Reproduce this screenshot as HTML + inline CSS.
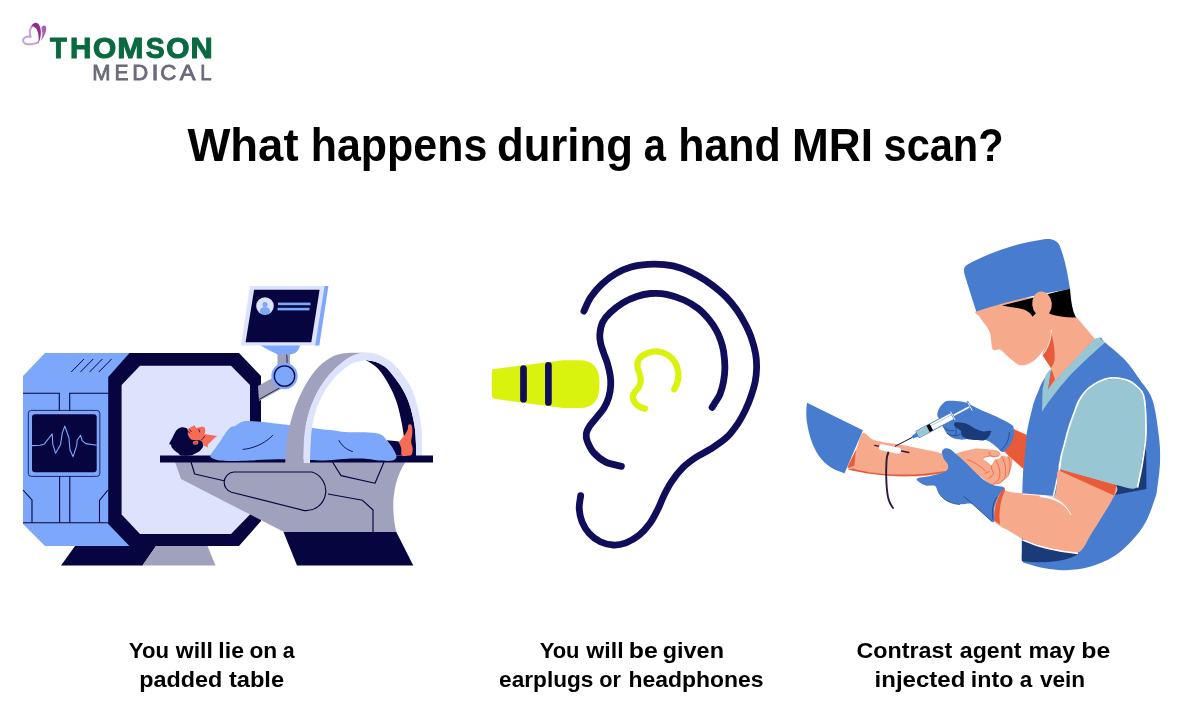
<!DOCTYPE html>
<html lang="en">
<head>
<meta charset="utf-8">
<title>What happens during a hand MRI scan?</title>
<style>
html,body{margin:0;padding:0;background:#fff;}
body{width:1200px;height:720px;overflow:hidden;position:relative;font-family:"Liberation Sans",sans-serif;}
svg{position:absolute;left:0;top:0;display:block;will-change:transform;}
text{font-family:"Liberation Sans",sans-serif;font-weight:700;}
</style>
</head>
<body>
<svg width="1200" height="720" viewBox="0 0 1200 720">
<g id="all">

<!-- LOGO -->
<g id="logo">
<path d="M38.3,42.4 C34,44.6 27.5,45 24.8,43.3 C22.2,41.6 22.6,38.6 25.2,37.3 C27,36.4 29,36.4 30.7,37 C29.4,33.5 29.7,29.8 31.3,27" fill="none" stroke="#c9a0d2" stroke-width="2" stroke-linecap="round" stroke-linejoin="round"/>
<path d="M31,26.6 C32.3,23.6 35,22.2 37.2,23 C39.2,23.8 40.1,26.5 40.7,30 C41.3,34.5 40.4,39.5 38.3,43.2 C39.2,38 38.5,33 36.9,29.8 C35.6,27.2 33.5,25.9 31,26.6 Z" fill="#8f2d91"/>
<path d="M41.4,27.5 C42.5,25.4 44.6,24.8 45.7,26.2 C47,28 46.1,32 44.3,35.5 C43.3,37.5 42,39.6 40.6,41.2 C41.8,38.5 42.4,36 42.3,33.5 C42.2,31 41.6,29 41.4,27.5 Z" fill="#a862b3"/>
<text y="57.8" font-size="28.6" fill="#0a6a3f" stroke="#0a6a3f" stroke-width="1" stroke-linejoin="miter"><tspan x="50.10" textLength="16.79" lengthAdjust="spacingAndGlyphs">T</tspan><tspan x="70.13" textLength="21.35" lengthAdjust="spacingAndGlyphs">H</tspan><tspan x="93.03" textLength="23.22" lengthAdjust="spacingAndGlyphs">O</tspan><tspan x="117.31" textLength="26.18" lengthAdjust="spacingAndGlyphs">M</tspan><tspan x="145.69" textLength="18.91" lengthAdjust="spacingAndGlyphs">S</tspan><tspan x="166.28" textLength="23.22" lengthAdjust="spacingAndGlyphs">O</tspan><tspan x="190.55" textLength="22.27" lengthAdjust="spacingAndGlyphs">N</tspan></text>
<text y="79.6" font-size="21.6" fill="#6a6a7a" style="font-weight:400" stroke="#6a6a7a" stroke-width="0.8"><tspan x="92.20" textLength="18.30" lengthAdjust="spacingAndGlyphs">M</tspan><tspan x="114.58" textLength="14.02" lengthAdjust="spacingAndGlyphs">E</tspan><tspan x="132.19" textLength="15.97" lengthAdjust="spacingAndGlyphs">D</tspan><tspan x="151.45" textLength="7.09" lengthAdjust="spacingAndGlyphs">I</tspan><tspan x="160.27" textLength="16.17" lengthAdjust="spacingAndGlyphs">C</tspan><tspan x="179.76" textLength="15.77" lengthAdjust="spacingAndGlyphs">A</tspan><tspan x="200.24" textLength="11.29" lengthAdjust="spacingAndGlyphs">L</tspan></text>
</g>

<!-- TITLE -->
<text y="161" font-size="45.5" fill="#000"><tspan x="187.48" textLength="111.06" lengthAdjust="spacingAndGlyphs">What</tspan> <tspan x="310.77" textLength="176.49" lengthAdjust="spacingAndGlyphs">happens</tspan> <tspan x="496.96" textLength="135.97" lengthAdjust="spacingAndGlyphs">during</tspan> <tspan x="643.84" textLength="22.15" lengthAdjust="spacingAndGlyphs">a</tspan> <tspan x="678.27" textLength="102.55" lengthAdjust="spacingAndGlyphs">hand</tspan> <tspan x="792.07" textLength="80.89" lengthAdjust="spacingAndGlyphs">MRI</tspan> <tspan x="883.55" textLength="120.08" lengthAdjust="spacingAndGlyphs">scan?</tspan></text>
<!-- CAPTIONS -->
<text y="657.7" font-size="22.6" fill="#000"><tspan x="128.82" textLength="40.14" lengthAdjust="spacingAndGlyphs">You</tspan> <tspan x="175.80" textLength="37.05" lengthAdjust="spacingAndGlyphs">will</tspan> <tspan x="218.39" textLength="25.70" lengthAdjust="spacingAndGlyphs">lie</tspan> <tspan x="249.41" textLength="27.79" lengthAdjust="spacingAndGlyphs">on</tspan> <tspan x="282.68" textLength="11.88" lengthAdjust="spacingAndGlyphs">a</tspan></text>
<text y="687.4" font-size="22.6" fill="#000"><tspan x="139.27" textLength="83.06" lengthAdjust="spacingAndGlyphs">padded</tspan> <tspan x="228.92" textLength="55.19" lengthAdjust="spacingAndGlyphs">table</tspan></text>
<text y="657.7" font-size="22.6" fill="#000"><tspan x="539.63" textLength="39.82" lengthAdjust="spacingAndGlyphs">You</tspan> <tspan x="586.25" textLength="37.31" lengthAdjust="spacingAndGlyphs">will</tspan> <tspan x="628.87" textLength="28.97" lengthAdjust="spacingAndGlyphs">be</tspan> <tspan x="662.79" textLength="61.16" lengthAdjust="spacingAndGlyphs">given</tspan></text>
<text y="687.4" font-size="22.6" fill="#000"><tspan x="499.12" textLength="94.30" lengthAdjust="spacingAndGlyphs">earplugs</tspan> <tspan x="599.16" textLength="21.66" lengthAdjust="spacingAndGlyphs">or</tspan> <tspan x="628.41" textLength="135.03" lengthAdjust="spacingAndGlyphs">headphones</tspan></text>
<text y="657.7" font-size="22.6" fill="#000"><tspan x="856.55" textLength="95.73" lengthAdjust="spacingAndGlyphs">Contrast</tspan> <tspan x="959.83" textLength="61.70" lengthAdjust="spacingAndGlyphs">agent</tspan> <tspan x="1028.47" textLength="46.64" lengthAdjust="spacingAndGlyphs">may</tspan> <tspan x="1081.37" textLength="28.97" lengthAdjust="spacingAndGlyphs">be</tspan></text>
<text y="687.4" font-size="22.6" fill="#000"><tspan x="874.58" textLength="90.75" lengthAdjust="spacingAndGlyphs">injected</tspan> <tspan x="970.89" textLength="42.52" lengthAdjust="spacingAndGlyphs">into</tspan> <tspan x="1019.85" textLength="12.51" lengthAdjust="spacingAndGlyphs">a</tspan> <tspan x="1039.92" textLength="45.23" lengthAdjust="spacingAndGlyphs">vein</tspan></text>

<g id="mri">
<!-- feet of scanner -->
<polygon points="75,546 61,565.5 142.5,565.5 156,546" fill="#07053f"/>
<polygon points="156,546 142.5,565.5 215.5,565.5 207.5,546" fill="#a0a1bc"/>
<!-- blue body -->
<polygon points="45,353 131,353 131,546 45,546 23,524 23,376" fill="#7da7fb"/>
<!-- dark octagon -->
<polygon points="129.5,353 239,353 261,376 261,521 239,546 129.5,546 108.2,524 108.2,377" fill="#07053f"/>
<!-- inner light -->
<polygon points="140,365.8 231,365.8 250,385 250,514.5 231,534 140,534 121.6,514.5 121.6,385" fill="#dde3fd"/>
<!-- panel lines -->
<g fill="none" stroke="#07053f" stroke-width="1.1">
<path d="M23,393.3 H59.3 V411 M108.5,393.3 H69.7 V411"/>
<path d="M59.6,476 V522.6 M69.8,476 V522.6"/>
<path d="M23,522.8 H108.5"/>
<path d="M23,490 L32,500 V522.6 M108,490 L99.5,500.5 V522.6"/>
<path d="M71.2,372 L84,359 M80.4,372 L93.2,359 M89.6,372 L102.4,359 M98.8,372 L111.6,359" stroke-width="1"/>
<rect x="28.3" y="410.4" width="71.5" height="66" rx="3" stroke-width="0.8"/>
</g>
<rect x="32" y="414.2" width="64.7" height="58" rx="3" fill="#07053f"/>
<path d="M32,445.6 L40,445.3 L44.4,443.9 L52.2,433.9 L52.8,444.4 L55.6,453.3 L60.6,444.4 L62.2,433.3 L64.8,426.1 L68.9,437.8 L70,450 L73.1,456.7 L76.7,445.6 L77.2,440 L80.6,435.3 L82.2,440.6 L85.6,443.6 L96.7,445.3" fill="none" stroke="#7da7fb" stroke-width="1.1" stroke-linejoin="round"/>

<!-- monitor arm -->
<polygon points="258,386 276,376 283,388 259,401" fill="#a0a1bc"/>
<path d="M259,399.5 L281,387" stroke="#07053f" stroke-width="0.8" fill="none"/>
<rect x="277.5" y="350" width="12.5" height="22" fill="#a0a1bc"/>
<path d="M285,352 q2,2 2,5 v10" stroke="#07053f" stroke-width="0.8" fill="none"/>
<path d="M260,345 H300 C299,351 295,354.5 289,354.5 H278 C272,352 266,349 260,345 Z" fill="#7da7fb"/>
<circle cx="284.5" cy="376" r="13.2" fill="#7da7fb"/>
<circle cx="284.5" cy="376" r="10.2" fill="none" stroke="#07053f" stroke-width="1.3"/>
<!-- monitor -->
<polygon points="323,286 328.4,286 319.3,345.6 314,345.6" fill="#7da7fb"/>
<polygon points="250,286 324.6,286 315.2,345.6 241,345.6" fill="#dde3fd"/>
<polygon points="254.1,289.7 319.6,289.7 311.3,342.3 245.6,342.3" fill="#07053f"/>
<circle cx="265" cy="306" r="8.8" fill="#dde3fd"/>
<path d="M265,302 a2.6,2.6 0 1,0 0.01,0 Z M259.5,312.5 C260,308 262.5,307 265,307 C267.5,307 270,308 270.5,312.5 A8.8,8.8 0 0 1 259.5,312.5 Z" fill="#7da7fb"/>
<rect x="278" y="302.6" width="32.5" height="2.6" fill="#7da7fb"/>
<rect x="277.5" y="307.8" width="32" height="2.6" fill="#7da7fb"/>

<!-- table base -->
<path d="M175,462 L181,479 L285,532.5 H396.5 C392,515 390,485 405.5,462 Z" fill="#a0a1bc"/>
<polygon points="283.5,532 297,565.5 413.3,565.5 396.3,532" fill="#07053f"/>
<g fill="none" stroke="#07053f" stroke-width="1.15" stroke-linejoin="round">
<path d="M191,462 L194.7,474 L224,480.8"/>
<path d="M234,472 H312 A19.8,19.8 0 0 1 304.5,510.6 L231.5,492.3 A10.4,10.4 0 0 1 234,472 Z"/>
<path d="M332.5,462 L341,475.6 L375,483.3 L384,462"/>
<path d="M328,494 L362.5,500.3 L373,510 V532"/>
</g>

<!-- arch back -->

<path d="M366.0,360.0 C367.7,360.3 372.8,360.8 376.0,362.0 C379.2,363.2 381.5,363.2 385.5,367.0 C389.5,370.8 396.1,379.0 400.0,385.0 C403.9,391.0 406.6,396.3 409.0,403.0 C411.4,409.7 413.2,418.0 414.4,425.0 C415.6,432.0 415.7,439.8 416.0,445.0 C416.3,450.2 416.2,454.2 416.2,456.0 L405.0,456.0 C404.9,453.5 405.2,447.1 404.5,441.0 C403.8,434.9 402.4,426.0 401.0,419.4 C399.6,412.8 398.4,407.1 396.4,401.4 C394.4,395.7 392.0,390.4 389.0,385.0 C386.0,379.6 382.1,373.2 378.3,369.0 C374.5,364.8 368.1,361.5 366.0,360.0 Z" fill="#07053f"/>
<path d="M371.0,353.0 C373.2,353.8 379.8,355.2 384.0,357.5 C388.2,359.8 391.9,362.1 396.4,367.0 C400.9,371.9 407.2,380.1 410.8,387.0 C414.4,393.9 416.2,401.4 418.0,408.6 C419.8,415.8 420.9,423.9 421.6,430.0 C422.3,436.1 421.9,440.7 422.0,445.0 C422.1,449.3 422.0,454.2 422.0,456.0 L416.2,456.0 C416.2,454.2 416.3,450.2 416.0,445.0 C415.7,439.8 415.6,432.0 414.4,425.0 C413.2,418.0 411.4,409.7 409.0,403.0 C406.6,396.3 403.9,391.0 400.0,385.0 C396.1,379.0 389.5,370.8 385.5,367.0 C381.5,363.2 379.2,363.2 376.0,362.0 C372.8,360.8 367.7,360.3 366.0,360.0 Z" fill="#dde3fd"/>

<!-- table top -->
<rect x="160" y="455.5" width="273" height="7" fill="#07053f"/>

<!-- patient -->
<path d="M387,440.3 L397.4,441.3 L400.5,442.3 L404,455.5 H392 Z" fill="#07053f"/>
<path d="M399.0,442.1 C399.8,440.7 402.9,437.7 404.3,435.6 C405.8,433.5 407.1,431.1 407.7,429.5 C408.3,427.9 407.9,426.6 408.2,425.7 C408.5,424.8 409.1,424.3 409.7,424.3 C410.3,424.3 411.3,424.7 411.7,425.6 C412.1,426.5 412.2,428.1 412.3,429.5 C412.4,430.9 412.5,432.1 412.3,434.1 C412.1,436.1 411.2,439.7 411.2,441.7 C411.2,443.7 411.9,444.7 412.2,446.0 C412.4,447.3 412.8,448.1 412.7,449.4 C412.6,450.7 412.4,453.0 411.9,454.0 C411.4,455.0 411.3,455.2 409.7,455.5 C408.1,455.8 403.4,456.6 402.0,455.5 C400.6,454.4 401.6,450.5 401.2,448.6 C400.9,446.7 400.1,445.1 399.7,444.0 C399.3,442.9 398.2,443.5 399.0,442.1 Z" fill="#f66c57"/>
<!-- face -->
<path d="M186.5,431 L187.7,429 L194.3,425.2 L196.4,428 L199.5,427.2 L202.3,426.5 L205,427.8 L205.3,432 L204.3,434 L217.2,436 L214.3,438.2 L207.7,444.7 L207.9,447.5 L204.3,446 L203,443 L190,445 Z" fill="#f66c57"/>
<!-- blanket -->
<path d="M210.6,457.0 C209.6,455.7 211.2,454.0 212.0,452.5 C212.8,451.0 213.8,450.5 215.5,448.0 C217.2,445.5 220.1,440.9 222.5,437.5 C224.9,434.1 227.9,429.7 230.0,427.8 C232.1,425.9 233.2,426.9 235.0,426.0 C236.8,425.1 238.9,423.0 241.0,422.2 C243.1,421.4 244.3,421.1 247.5,421.0 C250.7,420.9 255.4,421.4 260.0,421.8 C264.6,422.2 270.2,423.0 275.0,423.5 C279.8,424.0 283.7,424.4 288.7,425.0 C293.7,425.6 299.8,426.3 305.0,427.0 C310.2,427.7 315.3,428.4 320.0,429.0 C324.7,429.6 328.8,429.8 333.0,430.3 C337.2,430.8 340.5,431.7 345.0,432.0 C349.5,432.3 356.2,432.2 360.0,432.3 C363.8,432.4 365.4,432.3 368.0,432.4 C370.6,432.5 372.9,432.5 375.3,433.0 C377.7,433.5 380.3,434.0 382.2,435.2 C384.1,436.4 385.0,438.2 386.7,440.2 C388.4,442.2 390.5,444.6 392.1,447.1 C393.7,449.7 395.8,453.5 396.3,455.5 C396.8,457.5 396.1,458.4 395.1,459.3 C394.2,460.2 393.3,460.6 390.6,460.8 C387.9,461.0 382.9,460.8 379.1,460.5 C375.3,460.2 371.6,459.2 367.6,458.9 C363.6,458.6 359.6,458.5 355.0,458.6 C350.4,458.7 345.0,459.0 340.0,459.3 C335.0,459.6 330.0,460.3 325.0,460.4 C320.0,460.5 315.8,460.2 310.0,460.0 C304.2,459.8 296.7,459.4 290.0,459.3 C283.3,459.2 276.7,459.3 270.0,459.5 C263.3,459.7 256.3,460.2 250.0,460.5 C243.7,460.8 237.3,461.1 232.0,461.0 C226.7,460.9 221.6,460.9 218.0,460.2 C214.4,459.5 211.6,458.3 210.6,457.0 Z" fill="#7da7fb"/>
<path d="M215,438.8 L222,438.8 L212.3,451.5 L208,447.6 Z" fill="#dde3fd"/>
<path d="M243,449.4 C252,448.6 264,444.5 272.7,435.4 M339,440.5 C342,446 347,450 352.5,451.5" fill="none" stroke="#07053f" stroke-width="0.9" stroke-linecap="round"/>
<!-- hair -->
<path d="M169.3,443.7 C169.5,442.6 171.2,440.1 172.3,438.0 C173.4,435.9 174.6,432.9 175.7,431.3 C176.8,429.7 177.8,429.0 179.0,428.3 C180.2,427.6 181.7,427.2 183.0,427.3 C184.3,427.4 186.2,427.8 187.0,428.6 C187.8,429.4 187.6,430.9 187.8,432.0 C188.0,433.1 187.6,433.9 188.0,435.0 C188.4,436.1 189.6,437.9 190.3,438.7 C191.1,439.5 191.8,439.6 192.5,439.8 C193.2,440.0 193.5,439.9 194.3,440.0 C195.1,440.1 196.4,440.1 197.5,440.2 C198.6,440.3 200.0,440.1 201.0,440.8 C202.0,441.6 203.1,443.5 203.3,444.7 C203.5,445.9 203.0,446.9 202.3,448.0 C201.6,449.1 200.3,450.5 199.0,451.5 C197.7,452.5 195.8,453.3 194.3,454.0 C192.8,454.7 192.2,455.2 190.0,455.5 C187.8,455.8 182.9,455.9 181.0,455.5 C179.1,455.1 179.4,454.1 178.3,453.3 C177.2,452.5 175.6,451.5 174.5,450.5 C173.4,449.5 172.3,448.2 171.7,447.3 C171.1,446.4 171.4,445.4 171.0,444.8 C170.6,444.2 169.1,444.8 169.3,443.7 Z" fill="#07053f"/>
<ellipse cx="195.6" cy="442.6" rx="2.8" ry="2" fill="#f66c57" transform="rotate(-15 195.6 442.6)"/>
<path d="M194.2,443.4 q1.5,-1.6 2.8,-0.2" stroke="#07053f" stroke-width="0.5" fill="none"/>
<path d="M187.2,430.8 q1.6,0.4 2.4,2.2 M190,429.8 l1.2,1.8 M198.8,429.3 l0.8,2.6 M201.6,439.6 q2.2,-1 3,-3.4" stroke="#07053f" stroke-width="0.7" fill="none" stroke-linecap="round"/>

<!-- arch front -->

<path d="M285.3,463.0 C285.4,460.8 285.2,454.8 285.6,450.0 C286.1,445.2 286.7,440.3 288.0,434.0 C289.3,427.7 291.1,419.2 293.5,412.0 C295.9,404.8 298.9,397.4 302.5,390.5 C306.1,383.6 310.5,376.1 315.0,370.7 C319.5,365.3 324.6,361.1 329.6,358.2 C334.6,355.3 338.1,354.2 345.0,353.3 C351.9,352.4 366.7,353.1 371.0,353.0 L371.0,353.0 C368.6,353.2 361.5,352.7 356.7,354.3 C351.9,355.9 347.6,358.1 342.2,362.6 C336.8,367.1 329.1,374.4 324.0,381.5 C318.9,388.6 314.7,396.9 311.5,405.0 C308.3,413.1 306.3,422.5 305.0,430.0 C303.7,437.5 303.9,444.5 303.6,450.0 C303.3,455.5 303.4,460.8 303.4,463.0 Z" fill="#a0a1bc"/>
<path d="M303.4,463.0 C303.4,460.8 303.3,455.5 303.6,450.0 C303.9,444.5 303.7,437.5 305.0,430.0 C306.3,422.5 308.3,413.1 311.5,405.0 C314.7,396.9 318.9,388.6 324.0,381.5 C329.1,374.4 336.8,367.1 342.2,362.6 C347.6,358.1 351.9,355.9 356.7,354.3 C361.5,352.7 366.4,352.5 371.0,353.0 C375.6,353.5 379.8,355.2 384.0,357.5 C388.2,359.8 391.9,362.1 396.4,367.0 C400.9,371.9 408.4,383.7 410.8,387.0 L385.5,367.0 C383.9,366.2 379.2,363.2 376.0,362.0 C372.8,360.8 367.7,360.3 366.0,360.0 L366.0,360.0 C363.2,360.8 355.2,361.4 349.4,365.0 C343.6,368.6 336.5,375.2 331.4,381.5 C326.3,387.8 321.9,395.8 318.7,403.0 C315.5,410.2 313.8,417.2 312.4,425.0 C311.0,432.8 310.8,443.7 310.4,450.0 C310.0,456.3 310.1,460.8 310.0,463.0 Z" fill="#dde3fd"/>

</g>

<g id="ear" fill="none" stroke-linecap="round" stroke-linejoin="round">
<!-- earplug -->
<path d="M494.2,369 L563,360.3 H580 C592,360.3 599.3,368 599.3,380 V388.5 C599.3,400.5 592,408.1 580,408.1 H563 L494.2,398.8 Q491.8,398.5 491.8,396 V371.8 Q491.8,369.3 494.2,369 Z" fill="#d9f20e" stroke="none"/>
<path d="M523.5,368.6 V399.2 M548.4,365.3 V402.4" stroke="#100e5a" stroke-width="6.7"/>
<!-- outer ear -->
<path d="M583.9,311.1 C585.0,308.8 587.8,301.7 590.8,297.2 C593.8,292.7 597.8,287.9 602.0,284.0 C606.2,280.1 610.9,276.4 615.8,273.6 C620.6,270.8 625.8,268.5 631.1,267.0 C636.4,265.5 642.2,264.8 647.8,264.4 C653.3,264.0 658.9,264.1 664.4,264.7 C669.9,265.3 674.9,266.1 680.5,267.9 C686.1,269.7 692.6,272.9 697.8,275.7 C703.0,278.5 707.1,281.2 711.7,284.7 C716.3,288.2 721.4,292.3 725.6,296.5 C729.8,300.7 733.5,305.2 736.7,309.7 C739.9,314.2 742.6,319.0 745.0,323.6 C747.4,328.2 749.5,332.4 751.2,337.5 C753.0,342.6 754.7,348.8 755.6,353.9 C756.5,358.9 756.7,363.2 756.6,367.8 C756.5,372.4 756.1,377.1 755.2,381.7 C754.3,386.3 752.8,391.0 751.2,395.6 C749.7,400.2 747.9,404.8 745.7,409.4 C743.5,414.0 741.2,418.6 738.0,423.3 C734.8,428.0 731.1,433.3 726.5,437.6 C721.9,441.9 715.4,445.9 710.3,449.2 C705.2,452.6 700.3,454.4 695.7,457.5 C691.1,460.6 686.8,463.6 682.8,467.6 C678.8,471.6 674.8,476.9 671.8,481.3 C668.8,485.7 666.8,489.6 664.5,494.2 C662.2,498.8 660.6,503.9 658.1,508.8 C655.6,513.7 653.0,519.1 649.8,523.5 C646.6,527.9 642.8,532.2 638.8,535.4 C634.8,538.6 630.3,541.1 626.0,542.8 C621.7,544.4 617.5,545.2 613.2,545.0 C608.9,544.8 604.3,543.7 600.3,541.8 C596.3,539.9 592.3,537.0 589.3,533.6 C586.2,530.2 583.7,525.8 582.0,521.7 C580.3,517.6 579.5,513.1 579.2,508.8 C579.0,504.4 580.5,497.8 580.7,495.6" stroke="#100e5a" stroke-width="6.8"/>
<!-- helix inner -->
<path d="M712.1,407.4 C712.6,406.6 713.8,404.7 715.1,402.5 C716.4,400.3 718.6,397.7 720.0,394.2 C721.4,390.7 722.7,386.1 723.5,381.7 C724.3,377.3 724.9,372.9 724.9,367.8 C724.9,362.7 724.2,355.7 723.5,351.1 C722.8,346.5 721.9,343.7 720.7,340.3 C719.5,336.9 718.5,334.1 716.5,330.6 C714.5,327.1 712.0,323.1 708.9,319.4 C705.8,315.7 702.0,311.5 697.8,308.3 C693.6,305.1 689.1,302.3 683.9,300.0 C678.7,297.7 672.0,295.4 666.5,294.3 C661.0,293.2 655.6,293.1 650.6,293.5 C645.6,293.9 641.3,294.9 636.7,296.5 C632.1,298.1 627.2,300.1 622.8,302.8 C618.4,305.5 613.7,309.3 610.3,312.5 C606.9,315.7 604.4,318.5 602.6,322.2 C600.9,325.9 600.1,330.9 599.8,334.5 C599.5,338.1 600.2,341.0 600.8,344.0 C601.4,347.0 602.4,349.2 603.5,352.5 C604.6,355.8 606.4,359.7 607.5,363.6 C608.6,367.5 609.8,372.4 610.3,376.1 C610.8,379.8 611.0,382.3 610.7,385.8 C610.5,389.3 609.9,393.3 608.8,397.0 C607.7,400.7 606.1,404.5 604.0,408.0 C601.9,411.5 598.7,414.8 596.3,417.8 C593.9,420.8 591.3,423.5 589.6,426.1 C587.9,428.7 586.7,430.9 586.3,433.5 C585.9,436.1 586.1,438.3 587.4,441.5 C588.7,444.7 590.8,449.5 593.9,452.9 C597.0,456.3 601.2,459.9 605.8,462.1 C610.4,464.3 618.8,465.6 621.4,466.3" stroke="#100e5a" stroke-width="6.8"/>
<!-- concha -->
<path d="M674.2,389.3 C674.8,388.0 676.9,384.6 677.6,381.7 C678.3,378.8 678.8,375.2 678.3,372.0 C677.8,368.8 676.8,365.1 674.9,362.2 C673.0,359.3 670.3,356.4 667.2,354.6 C664.1,352.8 659.7,351.5 656.1,351.4 C652.5,351.3 648.6,352.6 645.7,353.9 C642.8,355.2 640.1,357.3 638.8,359.4 C637.4,361.5 637.3,364.1 637.4,366.4 C637.5,368.7 638.8,371.0 639.4,373.3 C640.0,375.6 640.9,378.0 640.8,380.3 C640.7,382.6 639.8,385.2 638.8,387.2 C637.7,389.2 635.6,390.4 634.6,392.1 C633.6,393.8 632.6,395.6 632.8,397.6 C633.0,399.6 634.7,402.3 636.0,403.9 C637.3,405.5 639.3,406.6 640.8,407.4 C642.3,408.2 644.3,408.3 645.0,408.5" stroke="#d9f20e" stroke-width="6.3"/>
</g>

<g id="doctor">
<!-- vest main -->
<path d="M1099.0,338.0 C1103.2,337.1 1100.7,338.8 1105.0,342.5 C1109.3,346.2 1119.2,353.8 1125.0,360.0 C1130.8,366.2 1135.4,373.3 1140.0,380.0 C1144.6,386.7 1149.3,390.4 1152.5,400.0 C1155.7,409.6 1157.8,427.1 1159.0,437.5 C1160.2,447.9 1160.3,453.8 1160.0,462.5 C1159.7,471.2 1157.9,483.8 1157.0,490.0 C1156.1,496.2 1156.4,494.6 1154.5,500.0 C1152.6,505.4 1149.2,515.8 1145.5,522.5 C1141.8,529.2 1137.2,534.9 1132.0,540.5 C1126.8,546.1 1121.0,551.9 1114.0,556.2 C1107.0,560.6 1098.0,564.4 1090.0,566.8 C1082.0,569.1 1073.5,570.0 1066.0,570.2 C1058.5,570.5 1051.0,569.2 1045.0,568.2 C1039.0,567.3 1033.8,565.7 1030.0,564.5 C1026.2,563.3 1023.6,563.4 1022.3,561.0 C1021.0,558.6 1022.0,556.8 1022.0,550.0 C1022.0,543.2 1022.0,529.6 1022.0,520.0 C1022.0,510.4 1022.0,501.7 1022.3,492.5 C1022.5,483.3 1022.9,474.2 1023.5,465.0 C1024.1,455.8 1024.5,447.1 1026.0,437.5 C1027.5,427.9 1030.5,415.1 1032.5,407.5 C1034.5,399.9 1035.9,397.0 1038.0,392.0 C1040.1,387.0 1041.3,382.5 1045.0,377.5 C1048.7,372.5 1054.2,366.9 1060.0,362.0 C1065.8,357.1 1073.5,352.0 1080.0,348.0 C1086.5,344.0 1094.8,338.9 1099.0,338.0 Z" fill="#477ccf"/>
<!-- neck -->
<path d="M1047,340 L1050,310 L1076,316.5 L1095,339 L1056,380 L1049,389 L1051.5,369 L1042.2,354.7 Z" fill="#f7a98c"/>
<!-- collar (teal V) -->
<path d="M1098.9,337.6 L1105.2,342.2 C1094,352 1083,362 1072.5,372.8 C1062,384 1051,398 1042,411.7 L1042.6,389.4 L1045.4,375.6 L1051,368 L1048.2,389 L1055.8,379.7 L1094.7,338.8 Z" fill="#98c7d3"/>
<path d="M1051.7,369.3 L1055,379.7 L1048.2,388.7 Z" fill="#e85a38"/>
<!-- neck shadow -->
<path d="M1051,329.7 C1051.5,339 1047.5,348 1042.2,354.7 L1051,368 C1053,365.5 1054,363 1054.4,360.3 C1055,355 1054.5,350 1053.8,345 C1053,339.5 1052,334.5 1051,329.7 Z" fill="#e85a38"/>
<!-- face -->
<path d="M976.0,311.0 C973.3,313.0 977.9,314.3 979.0,316.0 C980.1,317.7 981.2,319.2 982.5,321.0 C983.8,322.8 985.8,325.0 987.0,327.0 C988.2,329.0 989.3,330.8 990.0,333.0 C990.7,335.2 990.6,337.4 991.0,340.0 C991.4,342.6 991.6,346.8 992.3,348.5 C993.0,350.2 993.7,350.1 995.0,350.3 C996.3,350.5 998.3,348.9 1000.0,349.5 C1001.7,350.1 1002.9,352.2 1005.0,354.0 C1007.1,355.8 1010.3,358.8 1012.5,360.5 C1014.7,362.2 1016.2,363.7 1018.0,364.5 C1019.8,365.3 1021.2,365.5 1023.0,365.3 C1024.8,365.1 1027.0,364.4 1029.0,363.5 C1031.0,362.6 1032.8,361.9 1035.0,360.0 C1037.2,358.1 1039.9,354.9 1042.0,352.0 C1044.1,349.1 1046.0,346.2 1047.5,342.5 C1049.0,338.8 1049.8,334.6 1051.0,330.0 C1052.2,325.4 1056.0,320.0 1055.0,315.0 C1054.0,310.0 1050.8,302.8 1045.0,300.0 C1039.2,297.2 1028.3,297.3 1020.0,298.0 C1011.7,298.7 1002.3,301.8 995.0,304.0 C987.7,306.2 978.7,309.0 976.0,311.0 Z" fill="#f7a98c"/>
<path d="M1051.3,329.5 C1051.6,340 1047,350.5 1041.5,356" fill="none" stroke="#fff" stroke-width="0.9"/>
<!-- hair -->
<path d="M1002,305.5 L1070,288.5 C1071,300 1072,310 1076,317.5 C1068,318 1058,316.5 1050,314 L1040,300 L1036.2,313 L1032.5,316.8 C1031,313.5 1029,312 1025,310 C1019,307.5 1010,307.5 1002,305.5 Z" fill="#000"/>
<!-- cap -->
<path d="M976.3,311.5 C972,298 968,286 964.3,273.5 C963.2,268.5 964.5,266.3 968,264.3 C990,252 1018,243 1044,239.2 C1052,238.2 1057,240 1059.8,246 C1064.5,258 1067.5,272 1070,289 C1040,293.5 1005,302 976.3,311.5 Z" fill="#477ccf"/>
<ellipse cx="1042" cy="304" rx="9.8" ry="12.5" fill="#f7a98c" transform="rotate(-6 1042 304)"/>
<!-- sleeve shadow + sleeve -->
<path d="M1143,436 L1146.2,452 L1146.4,489 L1114.5,495 L1117,484 L1137,487.5 Z" fill="#1b3a78"/>
<path d="M1080.0,400.0 C1082.0,396.4 1084.5,393.5 1087.0,391.0 C1089.5,388.5 1092.2,386.8 1095.0,385.0 C1097.8,383.2 1101.1,381.5 1104.0,380.5 C1106.9,379.5 1109.7,379.1 1112.5,379.0 C1115.3,378.9 1118.1,379.0 1121.0,379.6 C1123.9,380.2 1127.3,381.1 1130.0,382.5 C1132.7,383.9 1134.9,385.9 1137.0,388.0 C1139.1,390.1 1141.2,391.3 1142.5,395.0 C1143.8,398.7 1144.1,402.9 1144.5,410.0 C1144.9,417.1 1145.4,428.3 1144.8,437.5 C1144.2,446.7 1142.4,456.7 1141.0,465.0 C1139.6,473.3 1140.8,484.2 1136.6,487.5 C1132.4,490.8 1124.1,486.7 1116.0,485.0 C1107.9,483.3 1097.3,480.2 1088.0,477.5 C1078.7,474.8 1064.3,472.6 1060.0,469.0 C1055.7,465.4 1061.2,460.0 1062.0,456.0 C1062.8,452.0 1063.8,449.7 1065.0,445.0 C1066.2,440.3 1067.8,433.4 1069.5,428.0 C1071.2,422.6 1073.2,417.2 1075.0,412.5 C1076.8,407.8 1078.0,403.6 1080.0,400.0 Z" fill="#98c7d3"/>
<path d="M1059.3,469.8 C1059.6,467.5 1060.5,460.1 1061.3,456.0 C1062.1,451.9 1063.0,449.7 1064.3,445.0 C1065.5,440.3 1067.1,433.4 1068.8,428.0 C1070.5,422.6 1072.5,417.2 1074.3,412.5 C1076.0,407.8 1077.3,403.7 1079.3,400.0 C1081.3,396.3 1083.8,393.1 1086.3,390.5 C1088.8,387.9 1091.4,386.0 1094.3,384.2 C1097.2,382.4 1100.8,380.7 1103.8,379.6 C1106.8,378.6 1109.6,378.1 1112.5,377.9 C1115.4,377.7 1118.0,378.0 1121.0,378.6 C1124.0,379.2 1127.7,380.2 1130.5,381.6 C1133.3,383.1 1135.7,385.2 1137.8,387.3 C1139.9,389.4 1141.9,390.7 1143.2,394.5 C1144.5,398.3 1145.0,402.8 1145.4,410.0 C1145.8,417.2 1146.3,428.3 1145.7,437.5 C1145.1,446.7 1143.4,456.6 1142.0,465.0 C1140.6,473.4 1138.2,483.8 1137.5,487.6" fill="none" stroke="#fff" stroke-width="1.8" stroke-linejoin="round"/>
<path d="M1059.3,469.5 L1053.5,496" fill="none" stroke="#fff" stroke-width="1.4"/>
<!-- dark navy bottom -->
<path d="M1021.8,538 L1021.8,561.2 C1035,563 1050,562.6 1063,560 C1069,558.6 1074,556.6 1078.5,554 L1078,552 C1060,550.5 1040,546 1021.8,538 Z" fill="#1b3a78"/>
<!-- doctor arm -->
<path d="M996.0,489.0 C998.8,486.7 1007.2,491.5 1012.0,492.3 C1016.8,493.1 1020.3,493.2 1025.0,493.6 C1029.7,494.1 1035.2,494.6 1040.0,495.0 C1044.8,495.4 1051.2,498.0 1054.0,496.0 C1056.8,494.0 1056.0,487.3 1057.0,483.0 C1058.0,478.7 1054.8,470.8 1060.0,470.0 C1065.2,469.2 1078.7,475.3 1088.0,478.0 C1097.3,480.7 1112.0,482.3 1116.0,486.0 C1120.0,489.7 1114.7,494.3 1112.0,500.0 C1109.3,505.7 1103.7,514.0 1100.0,520.0 C1096.3,526.0 1092.7,531.5 1090.0,536.0 C1087.3,540.5 1086.1,544.2 1084.0,547.0 C1081.9,549.8 1080.3,552.0 1077.5,552.8 C1074.7,553.6 1070.8,552.5 1067.0,552.0 C1063.2,551.5 1059.5,551.1 1055.0,550.0 C1050.5,548.9 1045.0,547.2 1040.0,545.5 C1035.0,543.8 1030.0,542.3 1025.0,540.0 C1020.0,537.7 1015.2,534.7 1010.0,531.5 C1004.8,528.3 996.5,525.2 994.0,521.0 C991.5,516.8 994.7,511.3 995.0,506.0 C995.3,500.7 993.2,491.3 996.0,489.0 Z" fill="#f7a98c"/>
<path d="M1060,469.3 L1116.5,485.3 L1114,495.5 L1061,471.5 Z" fill="#e85a38"/>
<path d="M1022.3,539.8 C1035,545.5 1055,551.5 1078,553.3" fill="none" stroke="#fff" stroke-width="1.8"/>
<path d="M1040,495.3 C1055,496 1066,503 1071,515 C1066.5,505.5 1057,498.3 1040,496.8 Z" fill="#fff" stroke="#fff" stroke-width="0.6" stroke-linejoin="round"/>
<path d="M1022.5,494 L1054,496.4" fill="none" stroke="#fff" stroke-width="0.8"/>

<!-- patient sleeve + arm -->
<path d="M848.0,468.0 C846.3,464.3 853.6,455.8 856.0,450.0 C858.4,444.2 859.9,435.0 862.5,433.2 C865.1,431.4 868.5,437.5 871.8,439.0 C875.1,440.5 877.4,441.0 882.3,442.0 C887.2,443.0 894.0,443.6 901.0,444.8 C908.0,446.1 918.6,448.3 924.4,449.5 C930.2,450.7 932.4,450.9 936.0,451.8 C939.6,452.7 943.3,453.5 946.0,455.0 C948.7,456.5 951.3,458.7 952.0,461.0 C952.7,463.3 952.0,466.9 950.0,469.0 C948.0,471.1 944.2,472.3 940.0,473.5 C935.8,474.7 930.0,475.5 925.0,476.0 C920.0,476.5 915.2,476.6 910.0,476.6 C904.8,476.6 899.0,476.6 894.0,476.2 C889.0,475.8 884.7,475.1 880.0,474.5 C875.3,473.9 871.3,473.4 866.0,472.3 C860.7,471.2 849.7,471.7 848.0,468.0 Z" fill="#f7a98c"/>
<path d="M856,449.5 L854.3,465.8 L847.3,468.2 Z" fill="#e85a38"/>
<path d="M853,468.6 C875,475.6 915,476.6 945,471 L945,472.3 C925,477 895,477.6 866,473.2 L847.5,469.5 Z" fill="#e85a38"/>
<path d="M807,402.8 L862.9,430.3 L844.4,473.4 M844.4,473.4 C842.2,472.4 835.2,470.4 831.0,467.6 C826.8,464.8 822.6,461.1 819.3,456.5 C816.0,451.9 813.2,445.8 811.2,440.2 C809.2,434.6 807.8,427.6 807.0,422.7 C806.2,417.8 806.3,414.3 806.3,411.0 C806.3,407.7 806.9,404.2 807.0,402.8 Z" fill="#477ccf"/>
<!-- bandage & tube -->
<path d="M874.8,445.3 L908.8,452.5" stroke="#2d1a3d" stroke-width="1.3" fill="none" stroke-linecap="round"/>
<rect x="878.8" y="446" width="22.4" height="6" rx="2.6" fill="#fff" transform="rotate(11.5 890 449)"/>
<path d="M888.3,452.6 C888.0,453.5 887.1,455.8 886.8,458.0 C886.5,460.2 886.4,463.0 886.3,466.0 C886.2,469.0 886.1,472.3 886.2,476.0 C886.3,479.7 886.5,484.5 886.8,488.0 C887.1,491.5 887.5,494.5 888.0,497.0 C888.5,499.5 889.2,501.2 890.0,503.0 C890.8,504.8 892.5,507.2 893.0,508.0" stroke="#2d1a3d" stroke-width="1.9" fill="none" stroke-linecap="round"/>

<!-- patient hand -->
<path d="M950.0,456.5 C950.8,454.5 952.5,455.1 954.9,454.2 C957.3,453.3 961.0,452.0 964.3,451.1 C967.6,450.2 971.2,449.1 974.7,448.7 C978.2,448.3 981.9,448.8 985.1,449.0 C988.4,449.2 992.0,449.7 994.2,450.1 C996.4,450.5 997.5,450.7 998.5,451.3 C999.5,451.9 1000.4,452.8 1000.5,453.5 C1000.6,454.2 1000.3,455.0 999.0,455.6 C997.7,456.2 994.8,456.9 992.8,457.0 C990.8,457.1 988.8,456.3 987.2,456.5 C985.6,456.7 983.4,457.7 983.1,458.4 C982.8,459.1 984.6,460.1 985.5,460.8 C986.4,461.6 987.6,462.1 988.6,462.9 C989.6,463.6 990.7,465.3 991.4,465.3 C992.1,465.3 992.2,463.8 992.8,462.9 C993.4,462.0 994.2,460.4 994.9,459.8 C995.6,459.2 996.2,459.2 996.9,459.0 C997.6,458.8 998.4,458.9 999.0,458.6 C999.6,458.3 999.8,457.9 1000.4,457.4 C1001.0,456.9 1001.8,455.8 1002.5,455.6 C1003.2,455.4 1004.1,455.8 1004.8,456.0 C1005.5,456.2 1006.1,456.9 1006.7,456.7 C1007.3,456.5 1007.8,455.4 1008.3,455.0 C1008.8,454.6 1009.3,454.4 1009.8,454.5 C1010.3,454.6 1011.1,455.2 1011.5,455.8 C1011.9,456.4 1012.1,457.1 1012.2,458.0 C1012.4,458.9 1012.4,459.9 1012.4,461.0 C1012.4,462.1 1012.6,462.6 1012.2,464.3 C1011.8,466.0 1011.0,469.1 1010.1,471.2 C1009.2,473.4 1008.2,475.6 1006.7,477.5 C1005.2,479.4 1003.0,481.2 1001.1,482.4 C999.2,483.6 997.5,484.3 995.6,484.6 C993.8,484.9 992.3,485.2 990.0,484.0 C987.7,482.8 984.8,479.8 981.7,477.5 C978.6,475.2 974.7,472.2 971.2,470.0 C967.8,467.8 964.3,464.7 960.8,464.0 C957.3,463.3 951.8,467.2 950.0,466.0 C948.2,464.8 949.2,458.5 950.0,456.5 Z" fill="#f7a98c"/>
<g fill="none" stroke="#e85a38" stroke-width="0.75" stroke-linecap="round" stroke-linejoin="round">
<path d="M967.1,459.8 C972,461 975.5,463 978.9,465.7 C981.5,467.5 984,469.5 985.8,471.25 M985.1,473.7 C986.5,472.5 988,472 989.3,471.6"/>
<path d="M989.3,452.5 C989.2,453.8 989.4,454.8 990.2,455.6 C992.5,457 996,456.8 999,455.8 M983.2,458.2 C984.5,457 986.5,456.3 988.6,456.3"/>
<path d="M991.7,465.7 C991.4,467.5 991.6,468.8 992.1,469.9 C993,471.5 993.6,472.8 993.5,474 C992.3,475.8 990.5,477.2 988.6,478.5"/>
<path d="M995.6,460.1 C997.5,462.5 998.5,465 999,467.8 C999.8,471 1000,473.5 999.7,476.1 C999.3,478.5 998.3,480.3 996.9,481.7 C995.7,483 994.3,483.8 992.8,484.4"/>
<path d="M1001.8,456.7 C1003.5,460 1004.8,463 1005.3,466.4 C1005.8,470 1005.8,473 1005.3,476.1 C1004.8,478 1003.8,479.7 1002.5,481 C1001,482.4 999.4,483.3 997.6,483.75"/>
<path d="M1008.4,457.4 C1009.5,459.5 1010,462 1010.1,464.3 C1010.1,468 1009.6,471.5 1008.75,474.7 C1008.3,476 1007.6,476.8 1006.7,477.5"/>
</g>
<!-- lower glove -->
<path d="M945.5,448.2 C944.2,448.4 943.2,449.5 942.6,450.3 C942.0,451.1 941.8,451.4 942.0,452.8 C942.2,454.2 942.8,456.8 943.8,458.7 C944.8,460.6 947.2,462.6 947.8,464.5 C948.4,466.4 948.5,468.3 947.3,469.8 C946.1,471.3 943.8,472.2 940.8,473.3 C937.8,474.4 933.2,475.3 929.2,476.2 C925.2,477.1 918.6,477.4 917.0,478.5 C915.4,479.6 918.3,481.4 919.8,482.6 C921.2,483.8 923.2,484.9 925.7,485.5 C928.2,486.1 932.9,484.8 935.0,486.0 C937.1,487.2 936.5,490.1 938.5,492.5 C940.5,494.9 943.4,498.8 946.7,500.7 C950.0,502.6 954.4,503.7 958.3,504.2 C962.2,504.7 967.3,503.3 970.0,503.6 C972.7,503.9 972.5,504.3 974.7,506.0 C977.0,507.7 980.6,511.4 983.5,514.0 C986.4,516.6 990.4,520.6 992.2,521.7 C994.0,522.8 994.1,522.1 994.5,520.5 C994.9,518.9 994.2,514.5 994.3,512.0 C994.4,509.5 994.2,508.2 995.0,505.3 C995.8,502.4 997.6,497.7 999.2,494.8 C1000.8,491.9 1005.4,489.4 1004.4,487.8 C1003.4,486.2 996.5,486.2 993.3,485.0 C990.1,483.8 988.1,482.9 985.2,480.8 C982.3,478.8 979.1,475.8 975.8,472.7 C972.5,469.6 968.6,465.3 965.3,462.2 C962.0,459.1 958.5,456.1 956.0,454.0 C953.5,451.9 952.0,450.3 950.2,449.3 C948.5,448.3 946.8,448.0 945.5,448.2 Z" fill="#477ccf"/>
<path d="M963.5,496 L992.2,521.7 M938.5,492.5 C942,499 950,504 960,504.5" stroke="#1b3a78" stroke-width="0.7" fill="none"/>
<path d="M996.7,497 C992.5,504 991.5,512 993,519.5" stroke="#1b3a78" stroke-width="0.7" fill="none"/>
<path d="M1004.4,487.8 L1005,490.8 C1000.5,500 998.5,512 1000,524.5 L994.5,520.5 C994,510 996,498 1004.4,487.8 Z" fill="#e85a38"/>

<!-- upper wrist + glove -->
<path d="M1013.8,429 L1026.8,435 L1023.7,469.3 L1003.8,451.3 Z" fill="#e85a38"/>
<path d="M946.7,401.0 C944.4,401.6 943.4,403.0 942.0,404.5 C940.6,406.0 939.3,408.1 938.5,409.8 C937.7,411.6 937.2,413.6 937.3,415.0 C937.4,416.4 938.2,417.6 939.0,418.5 C939.8,419.4 941.6,419.6 942.0,420.5 C942.4,421.4 941.3,422.9 941.5,424.0 C941.7,425.1 942.3,425.8 943.2,427.3 C944.1,428.8 945.2,431.4 946.7,433.2 C948.2,434.9 950.2,436.7 952.5,437.8 C954.8,438.9 957.8,439.4 960.7,439.6 C963.6,439.8 966.5,439.0 970.0,439.0 C973.5,439.0 978.6,439.2 981.7,439.6 C984.8,440.0 986.2,440.0 988.7,441.3 C991.2,442.6 994.7,445.4 996.8,447.2 C998.9,448.9 1000.1,451.2 1001.5,451.8 C1002.9,452.4 1003.8,451.6 1005.0,450.7 C1006.2,449.8 1007.8,448.1 1009.0,446.5 C1010.2,444.9 1011.2,443.2 1012.0,441.3 C1012.8,439.4 1013.5,436.9 1013.8,435.0 C1014.1,433.1 1014.1,431.4 1013.8,429.7 C1013.5,428.0 1014.4,426.9 1012.0,425.0 C1009.6,423.1 1003.3,420.0 999.2,418.0 C995.1,416.0 991.4,414.6 987.5,412.8 C983.6,411.1 979.3,409.2 975.8,407.5 C972.3,405.8 969.8,403.9 966.5,402.8 C963.2,401.7 959.3,401.3 956.0,401.0 C952.7,400.7 949.0,400.4 946.7,401.0 Z" fill="#477ccf"/>
<path d="M954.8,422.7 C955.7,422.1 958.2,422.4 960.0,422.5 C961.8,422.6 963.6,422.8 965.3,423.3 C967.0,423.8 968.4,424.6 970.0,425.5 C971.6,426.4 973.1,427.7 974.7,428.5 C976.3,429.3 978.0,430.0 979.5,430.5 C981.0,431.0 982.1,431.3 984.0,431.4 C985.9,431.4 990.0,430.4 991.0,430.8 C992.0,431.2 990.7,432.8 990.3,433.8 C989.9,434.8 989.8,435.6 988.7,436.7 C987.7,437.8 986.0,439.6 984.0,440.2 C982.0,440.8 979.3,440.1 977.0,440.0 C974.7,439.9 972.3,440.2 970.0,439.6 C967.7,439.1 964.5,437.7 963.0,436.7 C961.5,435.7 961.4,434.5 961.0,433.5 C960.6,432.5 961.7,432.0 960.7,430.8 C959.7,429.6 955.8,427.6 954.8,426.2 C953.8,424.8 953.9,423.3 954.8,422.7 Z" fill="#1b3a78"/>
<path d="M943.5,427 C946,430 950,431.5 954,430.5 M947,433.3 C951,436 956,436.5 960,434.5 M954.5,424.5 C956.5,428 957,432 955,435.5 M1001,450 C1006,446 1009.3,440 1009.3,432.5" fill="none" stroke="#1b3a78" stroke-width="0.7" stroke-linecap="round"/>
<!-- syringe -->
<g transform="translate(912.2,437.3) rotate(-28)">
<path d="M-19.5,0 L0,0" stroke="#07053f" stroke-width="0.9"/>
<path d="M0,-1.3 L6,-2.2 V2.2 L0,1.3 Z" fill="#477ccf"/>
<rect x="6" y="-3.7" width="40" height="7.4" rx="0.8" fill="#ffffff" stroke="#477ccf" stroke-width="0.9"/>
<rect x="6.5" y="-3.2" width="12" height="6.4" fill="#98c7d3"/>
<rect x="18" y="-3.5" width="3.8" height="7" fill="#000"/>
<path d="M22,-1.3 H46" stroke="#477ccf" stroke-width="0.45" opacity="0.8"/>
<path d="M46,0 H65" stroke="#477ccf" stroke-width="3.2"/>
<path d="M46,0 H65" stroke="#ffffff" stroke-width="1.7"/>
<path d="M46,-5.2 V5.2" stroke="#477ccf" stroke-width="2" stroke-linecap="round"/>
<path d="M65.5,-5 V5" stroke="#477ccf" stroke-width="2.1" stroke-linecap="round"/>
<path d="M46,-4.8 V4.8 M65.5,-4.6 V4.6" stroke="#ffffff" stroke-width="0.8"/>
</g>
</g>

</g>
</svg>
</body>
</html>
